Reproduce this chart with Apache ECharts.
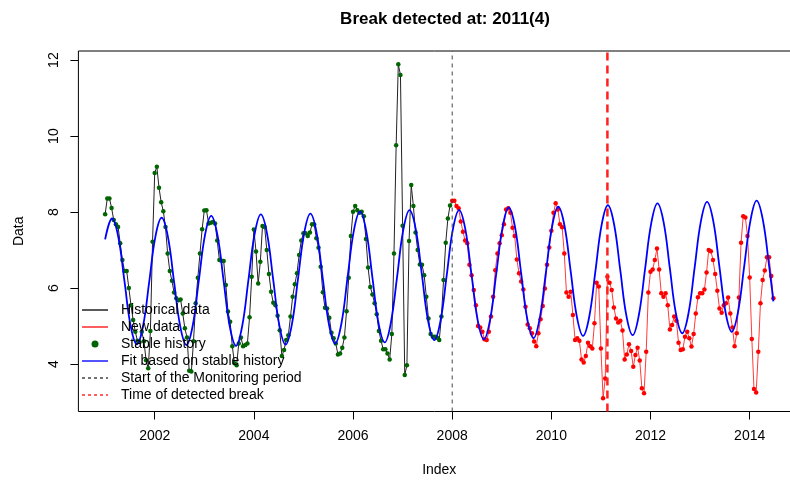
<!DOCTYPE html>
<html>
<head>
<meta charset="utf-8">
<script src="https://cdn.jsdelivr.net/npm/echarts@6/dist/echarts.min.js"></script>
<style>
    html, body {margin: 0; padding: 0; background: #fff;}
    #main {width: 790px; height: 482px;}
</style>
</head>
<body>
<div id="main"></div>
<script>
// 16-day composites, 23 per year, first one at 2001(1)
const start_year = 2001;
const per_year = 23;

// stable history, 2001(1) .. 2007(23)
const hist_values = [
    7.94, 8.36, 8.36, 8.11, 7.79, 7.68, 7.61, 7.18, 6.74, 6.45, 6.45, 6.00, 5.55, 5.16, 4.85, 4.61, 4.58, 4.85, 4.60, 4.10, 3.89, 4.87, 7.22,
    9.03, 9.19, 8.64, 8.26, 8.02, 7.61, 6.91, 6.45, 6.19, 5.88, 5.73, 5.68, 5.70, 5.33, 4.94, 4.70, 3.82, 3.80, 4.60, 5.60, 6.27, 6.91, 7.55,
    8.04, 8.05, 7.70, 7.72, 7.74, 7.70, 7.25, 6.74, 6.72, 6.71, 6.08, 5.38, 5.11, 4.47, 4.02, 3.97, 4.54, 4.70, 4.47, 4.50, 4.54, 5.23, 6.30,
    7.54, 6.96, 6.12, 6.69, 7.63, 7.61, 7.00, 6.37, 5.90, 5.61, 5.55, 5.27, 4.89, 4.21, 4.37, 4.63, 4.76, 5.25, 5.77, 6.10, 6.39, 6.87, 7.25,
    7.44, 7.44, 7.37, 7.46, 7.68, 7.67, 7.31, 7.06, 6.56, 5.89, 5.48, 5.46, 5.22, 4.82, 4.68, 4.54, 4.25, 4.28, 4.43, 4.70, 5.39, 6.27, 7.37,
    8.01, 8.16, 8.05, 7.98, 8.01, 7.89, 7.29, 6.54, 6.03, 5.83, 5.60, 5.31, 4.87, 4.61, 4.39, 4.39, 4.28, 4.12, 4.79, 6.91, 9.76, 11.89, 11.61,
    7.64, 3.71, 3.97, 7.24, 8.71, 8.16, 7.46, 7.00, 6.62, 6.61, 6.34, 5.77, 5.20, 4.79, 4.72, 4.72, 4.69, 4.63, 5.25, 6.21, 7.19, 7.83, 8.17
];

// monitoring period, 2008(1) .. 2014(12)
const new_values = [
    8.30, 8.30, 8.16, 8.10, 7.75, 7.48, 7.25, 7.18, 6.61, 6.34, 5.95, 5.55, 5.00, 4.96, 4.85, 4.65, 4.63, 4.85, 5.25, 5.77, 6.47, 6.91, 7.18,
    7.39, 7.68, 8.07, 8.10, 7.98, 7.59, 7.37, 6.75, 6.39, 6.17, 5.96, 5.51, 5.04, 4.94, 4.81, 4.59, 4.47, 4.81, 5.18, 5.53, 5.99, 6.61, 7.07,
    7.51, 7.98, 8.23, 8.07, 7.68, 7.60, 6.91, 5.88, 5.77, 5.90, 5.29, 4.63, 4.68, 4.61, 4.12, 4.04, 4.21, 4.56, 4.47, 4.41, 5.07, 6.14, 6.04,
    4.41, 3.10, 3.62, 6.30, 6.14, 5.95, 5.49, 5.20, 5.09, 5.14, 4.88, 4.12, 4.25, 4.52, 4.34, 3.93, 4.24, 4.43, 4.09, 3.36, 3.23, 4.32, 5.88,
    6.43, 6.49, 6.74, 7.04, 6.49, 5.86, 5.77, 5.86, 5.55, 4.91, 5.03, 5.25, 5.14, 4.56, 4.37, 4.39, 4.72, 4.85, 4.68, 4.46, 4.79, 5.33, 5.76,
    5.86, 5.86, 5.96, 6.41, 7.00, 6.97, 6.74, 6.37, 5.93, 5.46, 5.35, 5.55, 5.60, 5.75, 5.33, 4.96, 4.47, 4.81, 5.75, 7.19, 7.89, 7.86, 7.37,
    6.28, 4.66, 3.34, 3.25, 4.32, 5.60, 6.21, 6.46, 6.81, 6.81, 6.32, 5.73
];

// fitted season+trend, read 8 times a year (peak .. trough .. next rise)
const fit_phase = [0.14, 0.265, 0.39, 0.515, 0.64, 0.765, 0.89, 1.015];
const fit_start = [2001.0, 7.28];
const fit_by_year = [
    [7.83, 7.35, 6.18, 5.00, 4.52, 5.00, 6.17, 7.36],   // 2001
    [7.85, 7.36, 6.17, 4.99, 4.50, 5.00, 6.20, 7.40],   // 2002
    [7.90, 7.40, 6.19, 4.98, 4.48, 5.00, 6.21, 7.42],   // 2003
    [7.94, 7.44, 6.22, 5.01, 4.51, 5.03, 6.24, 7.45],   // 2004
    [7.96, 7.46, 6.25, 5.04, 4.54, 5.06, 6.28, 7.50],   // 2005
    [8.01, 7.51, 6.29, 5.07, 4.57, 5.10, 6.31, 7.54],   // 2006
    [8.05, 7.55, 6.34, 5.13, 4.63, 5.14, 6.34, 7.55],   // 2007
    [8.05, 7.55, 6.35, 5.15, 4.65, 5.17, 6.39, 7.59],   // 2008
    [8.12, 7.62, 6.40, 5.18, 4.68, 5.20, 6.41, 7.62],   // 2009
    [8.14, 7.64, 6.44, 5.24, 4.74, 5.25, 6.46, 7.67],   // 2010
    [8.18, 7.68, 6.47, 5.26, 4.76, 5.29, 6.50, 7.71],   // 2011
    [8.23, 7.73, 6.52, 5.31, 4.81, 5.33, 6.54, 7.75],   // 2012
    [8.27, 7.77, 6.56, 5.35, 4.85, 5.37, 6.58, 7.77],   // 2013
    [8.30, 7.80, 6.60]                                  // 2014
];
const fit_end = [2014.478, 5.65];

const monitor_start = 2008;
const break_time = 2011 + 3 / 23;   // 2011(4)

const x_ticks = [2002, 2004, 2006, 2008, 2010, 2012, 2014];
const y_ticks = [4, 6, 8, 10, 12];

const x_min = 2000.461, x_max = 2015.017;
const y_min = 2.75, y_max = 12.24;

const font = 'Liberation Sans';

// legend, drawn like R's legend("bottomleft", bty = "n")
const legend_names = ['Historical data', 'New data', 'Stable history',
    'Fit based on stable history', 'Start of the Monitoring period', 'Time of detected break'];
const legend_kinds = ['line', 'line', 'dot', 'line', 'dash', 'dash'];
const legend_colors = ['#222222', '#ff2a2a', '#006400', '#1a1aff', '#444444', '#ff2a2a'];

function to_time(i) {
    return start_year + i / per_year;
}

function gen_line_series(name, data, color, width, dash, z) {
    let s = {
        name: name,
        type: 'line',
        data: data,
        symbol: 'none',
        lineStyle: {color: color, width: width},
        itemStyle: {color: color},
        emphasis: {disabled: true},
        z: z
    };
    if (dash) s.lineStyle.type = dash;
    return s;
}

function gen_legend() {
    let items = [];
    let x0 = 82, x1 = 108, y0 = 310, step = 17;
    legend_names.forEach((name, k) => {
        let y = y0 + k * step;
        let kind = legend_kinds[k], color = legend_colors[k];
        if (kind === 'dot') {
            items.push({type: 'circle', shape: {cx: (x0 + x1) / 2, cy: y, r: 3.5}, style: {fill: color}, z: 100});
        } else {
            items.push({
                type: 'line',
                shape: {x1: x0, y1: y, x2: x1, y2: y},
                style: {stroke: color, lineWidth: 1.5, lineDash: kind === 'dash' ? [3, 3] : null},
                z: 100
            });
        }
        items.push({
            type: 'text', x: 121, y: y,
            style: {text: name, fill: '#000', font: '14px "Liberation Sans"', textVerticalAlign: 'middle'},
            z: 100
        });
    });
    return items;
}

function draw_chart() {
    let chart = echarts.init(document.getElementById('main'), null, {renderer: 'canvas'});

    let hist_data = hist_values.map((v, i) => [to_time(i), v]);
    let n0 = hist_values.length;
    let new_data = new_values.map((v, j) => [to_time(n0 + j), v]);

    let fit_data = [fit_start];
    fit_by_year.forEach((vals, k) => {
        vals.forEach((v, j) => fit_data.push([start_year + k + fit_phase[j], v]));
    });
    fit_data.push(fit_end);

    let fit_series = gen_line_series('Fit based on stable history', fit_data, '#0000ff', 1.8, null, 5);
    fit_series.smooth = 0.4;

    let option = {
        animation: false,
        title: {
            text: 'Break detected at: 2011(4)',
            left: 440,
            top: 6,
            textAlign: 'center',
            textStyle: {fontFamily: font, fontSize: 17, fontWeight: 'bold', color: '#000'}
        },
        graphic: gen_legend(),
        grid: {
            left: 78.4,
            top: 51,
            width: 721.7,
            height: 360.5,
            show: true,
            borderColor: '#000',
            borderWidth: 1,
            outerBoundsMode: 'none'
        },
        xAxis: {
            type: 'value',
            min: x_min,
            max: x_max,
            name: 'Index',
            nameLocation: 'middle',
            nameGap: 52,
            nameTextStyle: {fontFamily: font, fontSize: 14, color: '#000'},
            axisLine: {show: false},
            splitLine: {show: false},
            axisTick: {show: true, customValues: x_ticks, length: 8, lineStyle: {color: '#000'}},
            axisLabel: {
                customValues: x_ticks, fontFamily: font, fontSize: 14, color: '#000', margin: 18,
                formatter: (v) => String(v)
            }
        },
        yAxis: {
            type: 'value',
            min: y_min,
            max: y_max,
            name: 'Data',
            nameLocation: 'middle',
            nameGap: 52,
            nameRotate: 90,
            nameTextStyle: {fontFamily: font, fontSize: 14, color: '#000'},
            axisLine: {show: false},
            splitLine: {show: false},
            axisTick: {show: true, customValues: y_ticks, length: 8, lineStyle: {color: '#000'}},
            axisLabel: {
                customValues: y_ticks, rotate: 90, fontFamily: font, fontSize: 14, color: '#000', margin: 17,
                formatter: (v) => String(v)
            }
        },
        series: [
            gen_line_series('Historical data', hist_data.concat([new_data[0]]), '#222', 1, null, 2),
            gen_line_series('New data', new_data, '#ff3b3b', 1, null, 3),
            {
                name: 'Stable history',
                type: 'scatter',
                data: hist_data,
                symbol: 'circle',
                symbolSize: 4.5,
                itemStyle: {color: '#006400', opacity: 1},
                z: 4
            },
            {
                name: 'new points',
                type: 'scatter',
                data: new_data,
                symbol: 'circle',
                symbolSize: 4.5,
                itemStyle: {color: '#ff0000', opacity: 1},
                z: 4
            },
            fit_series,
            gen_line_series('Start of the Monitoring period', [[monitor_start, y_min], [monitor_start, y_max]], '#444', 1, [4, 4], 6),
            gen_line_series('Time of detected break', [[break_time, y_min], [break_time, y_max]], '#ff2020', 2.5, [8, 5], 6)
        ]
    };
    chart.setOption(option);
}

draw_chart();
</script>
</body>
</html>
